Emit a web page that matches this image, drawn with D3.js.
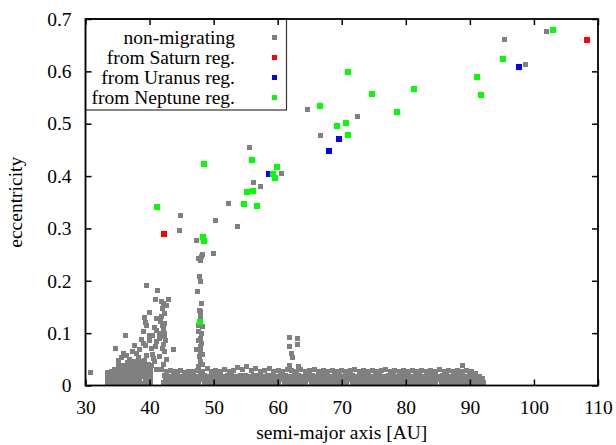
<!DOCTYPE html>
<html>
<head>
<meta charset="utf-8">
<script src="https://cdn.jsdelivr.net/npm/d3@7"></script>
<style>
  body { margin: 0; background: #fff; }
  svg { display: block; }
  text { font-family: "Liberation Serif", "Times New Roman", serif; fill: #000; }
</style>
</head>
<body>
<svg id="chart" width="616" height="445"></svg>
<script>
// ---- axis ticks ----
const xTicks = [30, 40, 50, 60, 70, 80, 90, 100, 110];
const yTicks = [0, 0.1, 0.2, 0.3, 0.4, 0.5, 0.6, 0.7];
const yTickLabels = ["0", "0.1", "0.2", "0.3", "0.4", "0.5", "0.6", "0.7"];

// ---- legend ----
const seriesNames = ["non-migrating", "from Saturn reg.", "from Uranus reg.", "from Neptune reg."];

// ---- non-migrating objects: [semi-major axis AU, eccentricity] ----
const nonMigratingScattered = [
  [102.0,0.676],[95.4,0.661],[98.65,0.613],[64.7,0.528],[72.4,0.514],[66.65,0.478],
  [55.6,0.455],[60.6,0.405],[56.2,0.388],[57.3,0.380],[52.3,0.348],[50.3,0.316],
  [53.7,0.304],[44.8,0.325],[44.6,0.296],[47.3,0.277],[50.0,0.253],
  [39.55,0.191],[41.2,0.182],[40.9,0.165],[43.0,0.165],[30.8,0.024],[43.8,0.069]
];
// resonant column near 48 AU
const nonMigrating48 = [
  [47.6,0.243],[47.9,0.238],[48.1,0.247],[48.3,0.251],[47.8,0.208],[48.0,0.198],
  [47.45,0.179],[48.1,0.156],[47.8,0.144],[48.0,0.141],[47.9,0.131],[48.2,0.112],
  [47.7,0.115],[47.6,0.103],[48.1,0.100],[47.9,0.090],[47.7,0.085],[48.1,0.081],
  [47.9,0.075],[47.35,0.069],[47.9,0.065],[48.2,0.060],[47.8,0.055],[48.0,0.046],
  [48.3,0.040],[47.6,0.036]
];
// cluster around 34-43 AU
const nonMigrating42 = [
  [41.9,0.160],[42.25,0.157],[42.6,0.152],[42.05,0.147],[42.4,0.138],[41.8,0.132],
  [41.1,0.128],[41.7,0.122],[42.4,0.119],[42.0,0.115],[42.15,0.109],[41.5,0.100],
  [42.3,0.100],[42.4,0.093],[41.6,0.090],[42.5,0.085],[41.1,0.084],[42.15,0.079],
  [42.0,0.070],[42.4,0.065],[41.6,0.055],[42.6,0.049],[42.2,0.040],[41.1,0.030],
  [41.9,0.030],[40.3,0.039],[40.3,0.070],[40.8,0.045],[41.0,0.075],[40.5,0.060],
  [39.96,0.140],[39.2,0.130],[39.3,0.120],[39.55,0.114],[40.7,0.111],[41.1,0.106],
  [39.1,0.103],[39.96,0.096],[36.3,0.096],[38.7,0.087],[37.7,0.077],[39.3,0.0755],
  [34.65,0.071],[38.5,0.068],[36.4,0.058],[37.3,0.065],[35.1,0.047],[35.65,0.054],
  [36.9,0.050],[38.2,0.054],[39.55,0.058],[40.6,0.052],[36.0,0.062],[38.0,0.062],
  [39.0,0.080],[40.0,0.086],[40.5,0.095]
];
const nonMigratingInner = [
  [33.4,0.004],[33.4,0.011],[33.5,0.018],[33.4,0.025],
  [34.0,0.004],[33.9,0.011],[34.0,0.018],[34.1,0.026],
  [34.6,0.004],[34.5,0.011],[34.6,0.018],[34.5,0.025],[34.6,0.031],
  [35.2,0.004],[35.3,0.011],[35.2,0.018],[35.2,0.025],[35.3,0.032],[35.2,0.038],
  [35.9,0.004],[35.9,0.011],[36.0,0.018],[35.9,0.025],[35.9,0.032],[36.0,0.039],
  [36.6,0.004],[36.5,0.011],[36.6,0.018],[36.5,0.025],[36.6,0.032],[36.5,0.039],[36.6,0.044],
  [37.2,0.004],[37.3,0.011],[37.2,0.018],[37.2,0.025],[37.3,0.032],[37.2,0.039],[37.2,0.046],
  [37.9,0.004],[37.9,0.011],[38.0,0.018],[37.9,0.025],[37.8,0.032],[37.9,0.039],[38.0,0.046],
  [38.6,0.004],[38.5,0.011],[38.6,0.018],[38.5,0.025],[38.6,0.032],[38.5,0.039],[38.6,0.046],
  [39.2,0.004],[39.3,0.011],[39.2,0.018],[39.2,0.025],[39.3,0.032],[39.2,0.040],[39.2,0.048],
  [39.8,0.004],[39.8,0.011],[39.9,0.018],[39.8,0.025],[39.8,0.032],[39.9,0.041],
  [40.2,0.005],[40.2,0.012],[40.1,0.020],[40.2,0.028]
];
// low-eccentricity belt, 42-92 AU
const nonMigratingBelt = [
  [42.2,.005],[42.8,.004],[43.6,.005],[44.2,.006],[45.0,.004],[45.6,.005],[46.4,.005],[47.0,.004],
  [47.7,.006],[48.5,.005],[49.1,.004],[49.8,.005],[50.4,.006],[51.2,.004],[51.8,.005],[52.6,.005],
  [53.3,.004],[54.1,.006],[54.7,.005],[55.4,.004],[56.2,.005],[56.8,.006],[57.5,.004],[58.3,.005],
  [58.9,.005],[59.6,.004],[60.2,.006],[61.0,.005],[61.7,.004],[62.5,.005],[63.1,.006],[63.8,.004],
  [64.4,.005],[65.2,.005],[65.9,.004],[66.7,.006],[67.3,.005],[68.0,.004],[68.6,.005],[69.4,.006],
  [70.1,.004],[70.8,.005],[71.6,.005],[72.2,.004],[72.9,.006],[73.5,.005],[74.3,.004],[75.0,.005],
  [75.8,.006],[76.4,.004],[77.1,.005],[77.7,.005],[78.5,.004],[79.2,.006],[79.9,.005],[80.5,.004],
  [81.3,.005],[82.0,.006],[82.8,.004],[83.4,.005],[84.1,.005],[84.7,.004],[85.5,.006],[86.2,.005],
  [86.9,.004],[87.6,.005],[88.2,.006],[89.0,.004],[89.7,.005],[90.4,.005],[91.1,.004],[91.7,.006],
  [92.2,.005],

  [42.5,.012],[43.2,.011],[43.9,.013],[44.6,.012],[45.3,.011],[46.0,.012],[46.8,.013],[47.4,.011],
  [48.1,.012],[48.8,.012],[49.5,.011],[50.1,.013],[50.9,.012],[51.5,.011],[52.2,.012],[53.0,.013],
  [53.7,.011],[54.4,.012],[55.1,.012],[55.8,.011],[56.5,.013],[57.2,.012],[57.9,.011],[58.6,.012],
  [59.3,.013],[59.9,.011],[60.6,.012],[61.4,.012],[62.1,.011],[62.8,.013],[63.5,.012],[64.1,.011],
  [64.8,.012],[65.6,.013],[66.3,.011],[67.0,.012],[67.6,.012],[68.3,.011],[69.0,.013],[69.8,.012],
  [70.5,.011],[71.2,.012],[71.9,.013],[72.6,.011],[73.2,.012],[73.9,.012],[74.7,.011],[75.4,.013],
  [76.1,.012],[76.8,.011],[77.4,.012],[78.1,.013],[78.8,.011],[79.6,.012],[80.2,.012],[80.9,.011],
  [81.7,.013],[82.4,.012],[83.1,.011],[83.8,.012],[84.4,.013],[85.1,.011],[85.9,.012],[86.6,.012],
  [87.3,.011],[87.9,.013],[88.6,.012],[89.3,.011],[90.1,.012],[90.8,.012],[91.4,.011],[92.0,.012],

  [42.3,.019],[43.0,.018],[43.7,.020],[44.4,.019],[45.1,.018],[45.8,.019],[46.5,.020],[47.2,.018],
  [47.9,.019],[48.6,.019],[49.3,.018],[50.0,.020],[50.7,.019],[51.4,.018],[52.1,.019],[52.8,.020],
  [53.5,.018],[54.2,.019],[54.9,.019],[55.6,.018],[56.3,.020],[57.0,.019],[57.7,.018],[58.4,.019],
  [59.1,.020],[59.8,.018],[60.5,.019],[61.2,.019],[61.9,.018],[62.6,.020],[63.3,.019],[64.0,.018],
  [64.7,.019],[65.4,.020],[66.1,.018],[66.8,.019],[67.5,.019],[68.2,.018],[68.9,.020],[69.6,.019],
  [70.3,.018],[71.0,.019],[71.7,.020],[72.4,.018],[73.1,.019],[73.8,.019],[74.5,.018],[75.2,.020],
  [75.9,.019],[76.6,.018],[77.3,.019],[78.0,.020],[78.7,.018],[79.4,.019],[80.1,.019],[80.8,.018],
  [81.5,.020],[82.2,.019],[82.9,.018],[83.6,.019],[84.3,.020],[85.0,.018],[85.7,.019],[86.4,.019],
  [87.1,.018],[87.8,.020],[88.5,.019],[89.2,.018],[89.9,.019],[90.6,.018],[91.3,.016],[91.9,.013],

  [42.6,.027],[43.3,.029],[44.0,.026],[44.8,.028],[45.4,.025],[46.1,.027],[46.9,.026],[47.5,.029],
  [48.3,.027],[49.0,.033],[49.6,.026],[50.3,.028],[51.0,.027],[51.7,.031],[52.4,.026],[53.1,.028],
  [53.7,.035],[54.5,.030],[55.2,.036],[55.9,.028],[56.6,.033],[57.3,.027],[58.0,.029],[58.7,.033],
  [59.4,.027],[60.1,.028],[60.8,.026],[61.5,.030],[62.2,.029],[62.9,.027],[63.6,.030],[64.3,.026],
  [65.0,.028],[65.7,.031],[66.4,.027],[67.1,.029],[67.8,.026],[68.5,.028],[69.2,.027],[69.9,.029],
  [70.6,.026],[71.3,.028],[72.0,.030],[72.7,.026],[73.4,.028],[74.1,.027],[74.8,.029],[75.5,.026],
  [76.2,.028],[76.9,.030],[77.6,.027],[78.3,.029],[79.0,.026],[79.7,.028],[80.4,.027],[81.1,.029],
  [81.8,.027],[82.5,.028],[83.2,.026],[83.9,.029],[84.6,.027],[85.3,.030],[86.0,.027],[86.7,.028],
  [87.4,.026],[88.1,.029],[88.8,.027],[89.5,.028],[90.2,.026],[90.9,.022],[91.5,.018],
  [88.9,.039]
];
// column near 62 AU
const nonMigrating62 = [
  [61.8,0.092],[63.1,0.090],[61.8,0.0754],[63.1,0.079],[62.1,0.0615],[62.35,0.054],
  [61.9,0.039],[63.2,0.037]
];

// ---- objects scattered from the giant-planet regions ----
const fromSaturn = [[42.25,0.290],[108.3,0.660]];
const fromUranus = [[58.7,0.4045],[68.0,0.448],[69.6,0.471],[97.7,0.609]];
const fromNeptune = [
  [41.2,0.3415],[48.35,0.2836],[48.5,0.2766],[47.9,0.122],[48.5,0.4236],[56.0,0.431],
  [59.85,0.418],[59.2,0.404],[59.6,0.396],[55.2,0.370],[56.1,0.372],[54.7,0.347],
  [56.7,0.343],[66.6,0.534],[71.0,0.599],[74.7,0.557],[81.3,0.567],[78.6,0.522],
  [69.3,0.496],[70.7,0.501],[71.0,0.479],[103.0,0.679],[95.2,0.624],[91.1,0.589],
  [91.7,0.554]
];

const nonMigrating = [].concat(nonMigratingInner, nonMigratingBelt, nonMigrating42,
  nonMigrating48, nonMigrating62, nonMigratingScattered);
const seriesData = [nonMigrating, fromSaturn, fromUranus, fromNeptune];

// ---- styling ----
const seriesColors = ["#808080", "#ff0000", "#0000ff", "#00ff00"];
const markerSize = [5, 6, 6, 6];
const fontSize = 19.5;

const svg = d3.select("#chart");
const W = 616, H = 445;
const margin = { left: 85.5, right: 18, top: 19, bottom: 59.5 };
const plotW = W - margin.left - margin.right;
const plotH = H - margin.top - margin.bottom;

const x = d3.scaleLinear().domain([30, 110]).range([margin.left, margin.left + plotW]);
const y = d3.scaleLinear().domain([0, 0.7]).range([margin.top + plotH, margin.top]);

// markers
seriesData.forEach((pts, i) => {
  const s = markerSize[i];
  svg.append("g")
    .attr("shape-rendering", "crispEdges")
    .selectAll("rect")
    .data(pts)
    .join("rect")
    .attr("x", d => x(d[0]) - s / 2)
    .attr("y", d => y(d[1]) - s / 2)
    .attr("width", s)
    .attr("height", s)
    .attr("fill", seriesColors[i]);
});

// legend
const legend = svg.append("g");
legend.append("rect")
  .attr("x", margin.left).attr("y", margin.top)
  .attr("width", 201).attr("height", 91)
  .attr("fill", "none").attr("stroke", "#333").attr("stroke-width", 1.2);
seriesNames.forEach((name, i) => {
  const cy = 37 + i * 20;
  legend.append("text")
    .attr("x", 235).attr("y", cy + 6.5)
    .attr("text-anchor", "end")
    .attr("font-size", fontSize)
    .text(name);
  legend.append("rect")
    .attr("x", 274.5 - 2.5).attr("y", cy - 2.5)
    .attr("width", 5).attr("height", 5)
    .attr("shape-rendering", "crispEdges")
    .attr("fill", seriesColors[i]);
});

// axes with inward ticks, mirrored on top and right
const tickLen = 6;
const axisBottom = d3.axisBottom(x).tickValues(xTicks).tickSizeInner(-tickLen).tickSizeOuter(0).tickPadding(tickLen + 9);
const axisTop = d3.axisTop(x).tickValues(xTicks).tickSizeInner(-tickLen).tickSizeOuter(0).tickFormat("");
const axisLeft = d3.axisLeft(y).tickValues(yTicks).tickSizeInner(-tickLen).tickSizeOuter(0)
  .tickPadding(tickLen + 8).tickFormat((d, i) => yTickLabels[i]);
const axisRight = d3.axisRight(y).tickValues(yTicks).tickSizeInner(-tickLen).tickSizeOuter(0).tickFormat("");

function styleAxis(g) {
  g.select(".domain").remove();
  g.selectAll(".tick line").attr("stroke", "#000").attr("stroke-width", 1.5);
  g.selectAll(".tick text").attr("font-size", fontSize)
    .attr("font-family", "'Liberation Serif','Times New Roman',serif").attr("fill", "#000");
}
svg.append("g").attr("transform", `translate(0,${margin.top + plotH})`).call(axisBottom).call(styleAxis);
svg.append("g").attr("transform", `translate(0,${margin.top})`).call(axisTop).call(styleAxis);
svg.append("g").attr("transform", `translate(${margin.left},0)`).call(axisLeft).call(styleAxis);
svg.append("g").attr("transform", `translate(${margin.left + plotW},0)`).call(axisRight).call(styleAxis);

// frame
svg.append("rect")
  .attr("x", margin.left).attr("y", margin.top)
  .attr("width", plotW).attr("height", plotH)
  .attr("fill", "none").attr("stroke", "#000").attr("stroke-width", 1.8);

// axis titles
svg.append("text")
  .attr("x", margin.left + plotW / 2).attr("y", 439)
  .attr("text-anchor", "middle").attr("font-size", fontSize)
  .text("semi-major axis [AU]");
svg.append("text")
  .attr("transform", `translate(22,${margin.top + plotH / 2}) rotate(-90)`)
  .attr("text-anchor", "middle").attr("font-size", fontSize)
  .text("eccentricity");
</script>
</body>
</html>
